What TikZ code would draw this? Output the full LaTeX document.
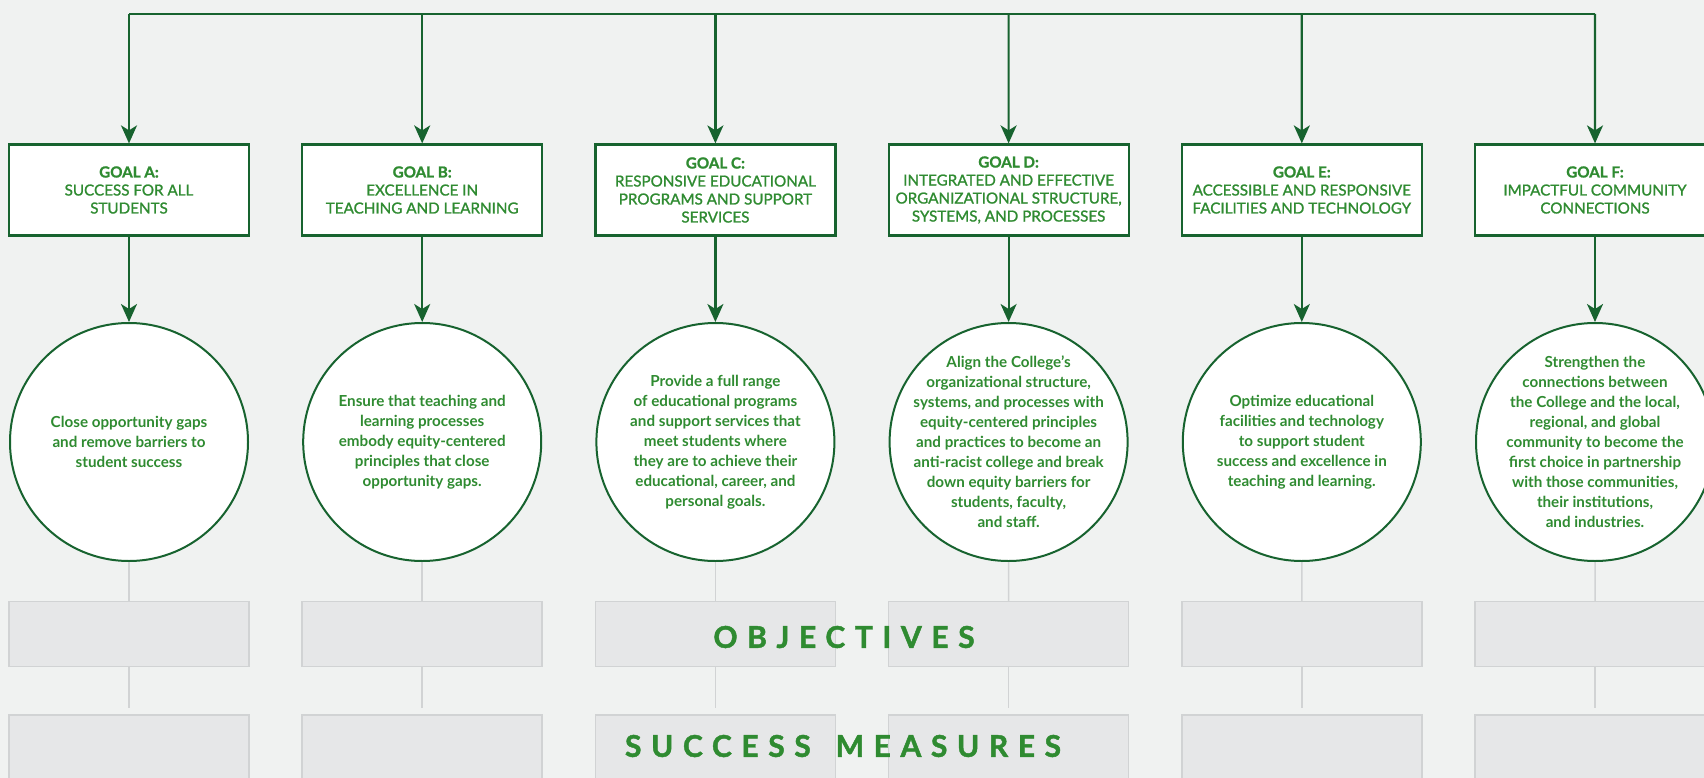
\documentclass[tikz,border=0pt]{standalone}
\usepackage{fontspec}
\setmainfont{Lato}
\usetikzlibrary{arrows.meta}
\definecolor{bggray}{HTML}{F0F2F1}
\definecolor{linegreen}{HTML}{17632F}
\definecolor{textgreen}{HTML}{2F8B31}
\definecolor{boxgray}{HTML}{E6E7E8}
\definecolor{edgegray}{HTML}{D1D3D4}
\tikzset{
  goalbox/.style={draw=linegreen, line width=2.2pt, fill=white, minimum width=240pt, minimum height=91pt, inner sep=0pt, text=textgreen, align=center, font=\fontsize{15.2}{18}\selectfont\addfontfeature{FakeBold=1.2}},
  aimcircle/.style={circle, draw=linegreen, line width=2pt, fill=white, minimum size=238pt, inner sep=-40pt, text=textgreen, align=center, font=\bfseries\fontsize{15.2}{20}\selectfont},
  graybox/.style={draw=edgegray, line width=1.5pt, fill=boxgray, minimum width=240pt, minimum height=65pt},
  link/.style={draw=linegreen, line width=2.2pt},
  goalarrow/.style={-{Stealth[length=18pt, width=16pt, inset=5pt]}},
  grayline/.style={draw=edgegray, line width=1.5pt},
  rowlabel/.style={text=textgreen, font=\bfseries\fontsize{30}{30}\selectfont\addfontfeature{LetterSpace=32, FakeBold=1.5}}
}

\begin{document}
\begin{tikzpicture}[x=1pt, y=-1pt]

  \fill [bggray] (0,0) rectangle (1704,778);
  \useasboundingbox (0,0) rectangle (1704,778);

  \node [goalbox] (ga) at (129,190) {\textbf{GOAL A:}\\SUCCESS FOR ALL\\STUDENTS};
  \node [goalbox] (gb) at (422.2,190) {\textbf{GOAL B:}\\EXCELLENCE IN\\TEACHING AND LEARNING};
  \node [goalbox] (gc) at (715.4,190) {\textbf{GOAL C:}\\RESPONSIVE EDUCATIONAL\\PROGRAMS AND SUPPORT\\SERVICES};
  \node [goalbox] (gd) at (1008.6,190) {\textbf{GOAL D:}\\INTEGRATED AND EFFECTIVE\\ORGANIZATIONAL STRUCTURE,\\SYSTEMS, AND PROCESSES};
  \node [goalbox] (ge) at (1301.8,190) {\textbf{GOAL E:}\\ACCESSIBLE AND RESPONSIVE\\FACILITIES AND TECHNOLOGY};
  \node [goalbox] (gf) at (1595,190) {\textbf{GOAL F:}\\IMPACTFUL COMMUNITY\\CONNECTIONS};

  \node [aimcircle] (ca) at (129,442) {Close opportunity gaps\\and remove barriers to\\student success};
  \node [aimcircle] (cb) at (422.2,442) {Ensure that teaching and\\learning processes\\embody equity-centered\\principles that close\\opportunity gaps.};
  \node [aimcircle] (cc) at (715.4,442) {Provide a full range\\of educational programs\\and support services that\\meet students where\\they are to achieve their\\educational, career, and\\personal goals.};
  \node [aimcircle] (cd) at (1008.6,442) {Align the College’s\\organizational structure,\\systems, and processes with\\equity-centered principles\\and practices to become an\\anti-racist college and break\\down equity barriers for\\students, faculty,\\and staff.};
  \node [aimcircle] (ce) at (1301.8,442) {Optimize educational\\facilities and technology\\to support student\\success and excellence in\\teaching and learning.};
  \node [aimcircle] (cf) at (1595,442) {Strengthen the\\connections between\\the College and the local,\\regional, and global\\community to become the\\first choice in partnership\\with those communities,\\their institutions,\\and industries.};

  \foreach \n [count=\i from 0] in {a,b,c,d,e,f} {
    \coordinate (bus\n) at (129+293.2*\i,14);
    \draw [link, goalarrow] (bus\n) -- (g\n);
    \draw [link, goalarrow] (g\n) -- (c\n);
    \node [graybox] (o\n) at (129+293.2*\i,634) {};
    \node [graybox] (s\n) at (129+293.2*\i,747.5) {};
    \draw [grayline] (c\n) -- (o\n);
    \draw [grayline, shorten >=6pt] (o\n) -- (s\n);
  }
  \draw [link] (busa) -- (busf);

  \node [rowlabel] (objectives) at (844,637) {OBJECTIVES};
  \node [rowlabel] (measures) at (843,746) {SUCCESS\hspace{8pt} MEASURES};

\end{tikzpicture}
\end{document}
